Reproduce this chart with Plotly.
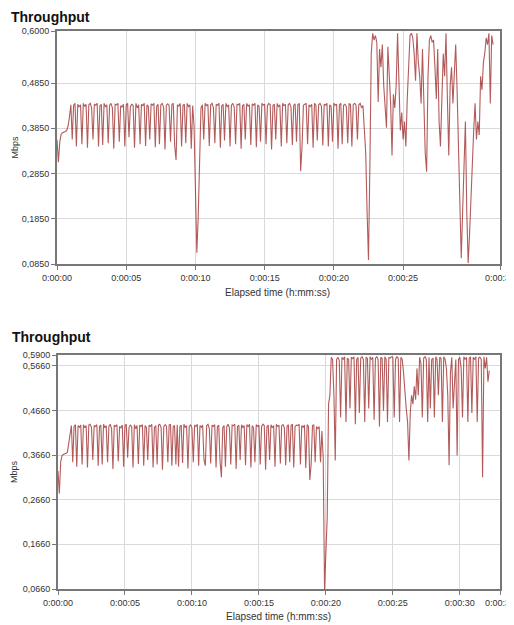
import plotly.graph_objects as go

# ---------------- data ----------------
sample_step_s = 0.1

top_mbps = [
    0.36, 0.31, 0.355, 0.372, 0.375, 0.376, 0.378, 0.38, 0.39, 0.41,
    0.437, 0.36, 0.436, 0.44, 0.345, 0.438, 0.432, 0.437, 0.35, 0.44,
    0.433, 0.438, 0.342, 0.437, 0.44, 0.43, 0.36, 0.438, 0.436, 0.44,
    0.345, 0.435, 0.438, 0.348, 0.44, 0.433, 0.437, 0.352, 0.436, 0.44,
    0.43, 0.34, 0.438, 0.437, 0.44, 0.355, 0.435, 0.432, 0.438, 0.345,
    0.437, 0.44, 0.365, 0.432, 0.438, 0.436, 0.342, 0.44, 0.43, 0.437,
    0.35, 0.438, 0.435, 0.44, 0.346, 0.437, 0.433, 0.36, 0.439, 0.436,
    0.44, 0.343, 0.434, 0.438, 0.35, 0.437, 0.44, 0.432, 0.338, 0.436,
    0.439, 0.435, 0.355, 0.438, 0.44, 0.347, 0.315, 0.437, 0.434, 0.44,
    0.345, 0.436, 0.438, 0.352, 0.44, 0.433, 0.437, 0.34, 0.435, 0.39,
    0.25, 0.11, 0.19, 0.30, 0.43, 0.437, 0.36, 0.44, 0.435, 0.438,
    0.346, 0.437, 0.44, 0.43, 0.352, 0.438, 0.436, 0.44, 0.342, 0.435,
    0.438, 0.358, 0.44, 0.433, 0.437, 0.345, 0.436, 0.44, 0.432, 0.35,
    0.438, 0.437, 0.44, 0.34, 0.435, 0.438, 0.36, 0.44, 0.434, 0.437,
    0.348, 0.439, 0.436, 0.44, 0.343, 0.437, 0.433, 0.355, 0.44, 0.436,
    0.438, 0.35, 0.435, 0.44, 0.437, 0.338, 0.436, 0.438, 0.36, 0.44,
    0.433, 0.437, 0.345, 0.44, 0.435, 0.438, 0.352, 0.437, 0.44, 0.432,
    0.348, 0.436, 0.439, 0.355, 0.437, 0.44, 0.29, 0.345, 0.436, 0.438,
    0.44, 0.35, 0.437, 0.433, 0.438, 0.342, 0.44, 0.436, 0.358, 0.437,
    0.44, 0.434, 0.347, 0.438, 0.436, 0.44, 0.345, 0.437, 0.433, 0.355,
    0.44, 0.436, 0.438, 0.34, 0.437, 0.44, 0.35, 0.436, 0.438, 0.433,
    0.352, 0.44, 0.437, 0.345, 0.438, 0.44, 0.436, 0.36, 0.437, 0.44,
    0.43, 0.435, 0.38, 0.33, 0.2, 0.094, 0.3, 0.55, 0.595, 0.58,
    0.59, 0.575, 0.443, 0.56, 0.52, 0.57, 0.48, 0.42, 0.386, 0.565,
    0.5, 0.44, 0.325, 0.46, 0.43, 0.48, 0.595, 0.45, 0.38, 0.42,
    0.36, 0.4, 0.345, 0.45, 0.52, 0.59, 0.595, 0.585, 0.55, 0.49,
    0.595, 0.53, 0.5, 0.44, 0.56, 0.45, 0.33, 0.289, 0.5, 0.58,
    0.59, 0.575, 0.58, 0.52, 0.45, 0.56, 0.4, 0.345, 0.47, 0.55,
    0.5, 0.595, 0.45, 0.325, 0.48, 0.52, 0.44, 0.5, 0.57, 0.47,
    0.355, 0.24, 0.098, 0.2, 0.32, 0.4, 0.2, 0.087, 0.15, 0.237,
    0.3, 0.38, 0.44, 0.36, 0.4, 0.37, 0.5, 0.47, 0.53, 0.55,
    0.585, 0.57, 0.595, 0.44, 0.59, 0.57,
]

bottom_mbps = [
    0.33, 0.28, 0.35, 0.365, 0.367, 0.368, 0.37, 0.372, 0.39, 0.41,
    0.432, 0.35, 0.43, 0.434, 0.34, 0.432, 0.428, 0.433, 0.345, 0.434,
    0.427, 0.432, 0.338, 0.433, 0.435, 0.428, 0.355, 0.432, 0.43, 0.434,
    0.342, 0.43, 0.433, 0.345, 0.435, 0.427, 0.432, 0.35, 0.43, 0.435,
    0.425, 0.335, 0.433, 0.43, 0.434, 0.352, 0.43, 0.427, 0.433, 0.34,
    0.432, 0.435, 0.36, 0.427, 0.433, 0.43, 0.338, 0.434, 0.425, 0.432,
    0.346, 0.433, 0.43, 0.434, 0.342, 0.432, 0.428, 0.355, 0.433, 0.43,
    0.435, 0.338, 0.428, 0.432, 0.345, 0.433, 0.435, 0.427, 0.333, 0.43,
    0.434, 0.43, 0.35, 0.433, 0.435, 0.342, 0.43, 0.432, 0.345, 0.434,
    0.34, 0.43, 0.433, 0.348, 0.435, 0.428, 0.432, 0.336, 0.43, 0.434,
    0.427, 0.35, 0.433, 0.43, 0.435, 0.342, 0.432, 0.428, 0.433, 0.355,
    0.342, 0.432, 0.435, 0.425, 0.347, 0.433, 0.43, 0.434, 0.338, 0.43,
    0.433, 0.352, 0.316, 0.428, 0.432, 0.34, 0.43, 0.435, 0.427, 0.345,
    0.433, 0.432, 0.435, 0.335, 0.43, 0.433, 0.355, 0.434, 0.428, 0.432,
    0.343, 0.434, 0.43, 0.435, 0.338, 0.432, 0.427, 0.35, 0.434, 0.43,
    0.433, 0.345, 0.43, 0.435, 0.432, 0.333, 0.43, 0.433, 0.355, 0.434,
    0.427, 0.432, 0.34, 0.435, 0.43, 0.433, 0.347, 0.432, 0.434, 0.427,
    0.343, 0.43, 0.434, 0.35, 0.432, 0.435, 0.338, 0.43, 0.433, 0.432,
    0.435, 0.345, 0.432, 0.428, 0.433, 0.337, 0.434, 0.43, 0.31, 0.345,
    0.432, 0.434, 0.35, 0.43, 0.425, 0.43, 0.35, 0.42, 0.36, 0.066,
    0.16, 0.227, 0.48, 0.5, 0.585, 0.58, 0.50, 0.354, 0.58, 0.585,
    0.578, 0.45, 0.585, 0.58, 0.586, 0.44, 0.583, 0.58, 0.47, 0.585,
    0.582, 0.586, 0.435, 0.58, 0.585, 0.46, 0.583, 0.586, 0.58, 0.44,
    0.585, 0.582, 0.47, 0.586, 0.58, 0.585, 0.445, 0.583, 0.586, 0.58,
    0.43, 0.585, 0.582, 0.465, 0.586, 0.58, 0.44, 0.585, 0.583, 0.586,
    0.585, 0.45, 0.58, 0.586, 0.583, 0.44, 0.585, 0.58, 0.55, 0.5,
    0.47, 0.44, 0.354, 0.46, 0.5, 0.48, 0.52, 0.49, 0.56, 0.5,
    0.585, 0.57, 0.45, 0.583, 0.586, 0.58, 0.44, 0.585, 0.47, 0.58,
    0.583, 0.45, 0.586, 0.58, 0.5, 0.585, 0.582, 0.44, 0.586, 0.58,
    0.56, 0.5, 0.343, 0.55, 0.585, 0.47, 0.52, 0.58, 0.365, 0.58,
    0.585, 0.56, 0.45, 0.586, 0.58, 0.585, 0.44, 0.583, 0.586, 0.46,
    0.585, 0.58, 0.586, 0.44, 0.583, 0.585, 0.58, 0.316, 0.586, 0.56,
    0.585, 0.53, 0.555,
]

top_y_ticks = [0.085, 0.185, 0.285, 0.385, 0.485, 0.600]
bottom_y_ticks = [0.066, 0.166, 0.266, 0.366, 0.466, 0.566, 0.590]
top_x_ticks = [0, 5, 10, 15, 20, 25, 32]
top_x_labels = ["0:00:00", "0:00:05", "0:00:10", "0:00:15", "0:00:20", "0:00:25", "0:00:32"]
bottom_x_ticks = [0, 5, 10, 15, 20, 25, 30, 33]
bottom_x_labels = ["0:00:00", "0:00:05", "0:00:10", "0:00:15", "0:00:20", "0:00:25", "0:00:30", "0:00:33"]

chart_title = "Throughput"
y_title = "Mbps"
x_title = "Elapsed time (h:mm:ss)"

# ---------------- figure ----------------
# the page body has an 8px margin, so the figure is sized/positioned to compensate
W, H = 506, 617
LINE = "rgba(150,28,28,0.72)"
GRID = "#dadada"
AXC = "#777777"
FONT = "Liberation Sans, Arial, sans-serif"
TXT = "#333333"


def comma(v):
    return f"{v:.4f}".replace(".", ",")


def px(x):
    return x / W


def py(y):
    return 1 - y / H


fig = go.Figure()
fig.add_trace(go.Scatter(y=top_mbps, x0=0, dx=sample_step_s, mode="lines",
                         line=dict(color=LINE, width=1.1), xaxis="x", yaxis="y",
                         showlegend=False, hoverinfo="skip"))
fig.add_trace(go.Scatter(y=bottom_mbps, x0=0, dx=sample_step_s, mode="lines",
                         line=dict(color=LINE, width=1.1), xaxis="x2", yaxis="y2",
                         showlegend=False, hoverinfo="skip"))

common = dict(showgrid=True, gridcolor=GRID, gridwidth=1, zeroline=False,
              showline=True, linecolor=AXC, linewidth=2, mirror=True,
              ticks="outside", ticklen=4, tickcolor=AXC, tickwidth=1,
              tickfont=dict(family=FONT, size=9, color=TXT),
              ticklabeloverflow="allow",
              automargin=False, tickmode="array")

fig.update_layout(
    width=W, height=H,
    margin=dict(l=0, r=0, t=0, b=0),
    paper_bgcolor="white", plot_bgcolor="white",
    font=dict(family=FONT, color=TXT),
    xaxis=dict(common, domain=[px(49), px(492)], range=[0, 32], anchor="y",
               tickvals=top_x_ticks, ticktext=top_x_labels),
    yaxis=dict(common, domain=[py(256), py(23)], range=[0.085, 0.6], anchor="x",
               tickvals=top_y_ticks, ticktext=[comma(v) for v in top_y_ticks]),
    xaxis2=dict(common, domain=[px(50), px(492)], range=[0, 33], anchor="y2",
                tickvals=bottom_x_ticks, ticktext=bottom_x_labels),
    yaxis2=dict(common, domain=[py(581), py(347)], range=[0.066, 0.59], anchor="x2",
                tickvals=bottom_y_ticks, ticktext=[comma(v) for v in bottom_y_ticks]),
)

title_font = dict(family=FONT, size=14, color="#111111")
xt_font = dict(family=FONT, size=10, color=TXT)
yt_font = dict(family=FONT, size=9, color=TXT)
annots = [
    dict(text=f"<b>{chart_title}</b>", x=px(2), y=py(0), xanchor="left", yanchor="top",
         borderpad=0, font=title_font),
    dict(text=f"<b>{chart_title}</b>", x=px(2), y=py(329), xanchor="left", yanchor="middle", font=title_font),
    dict(text=x_title, x=px(269.5), y=py(284), xanchor="center", yanchor="middle", font=xt_font),
    dict(text=x_title, x=px(270), y=py(608), xanchor="center", yanchor="middle", font=xt_font),
    dict(text=y_title, x=px(6), y=py(139.5), xanchor="center", yanchor="middle", textangle=-90, font=yt_font),
    dict(text=y_title, x=px(6), y=py(464), xanchor="center", yanchor="middle", textangle=-90, font=yt_font),
]
for a in annots:
    a.update(xref="paper", yref="paper", showarrow=False)
fig.update_layout(annotations=annots)

fig.write_html("out.html")
